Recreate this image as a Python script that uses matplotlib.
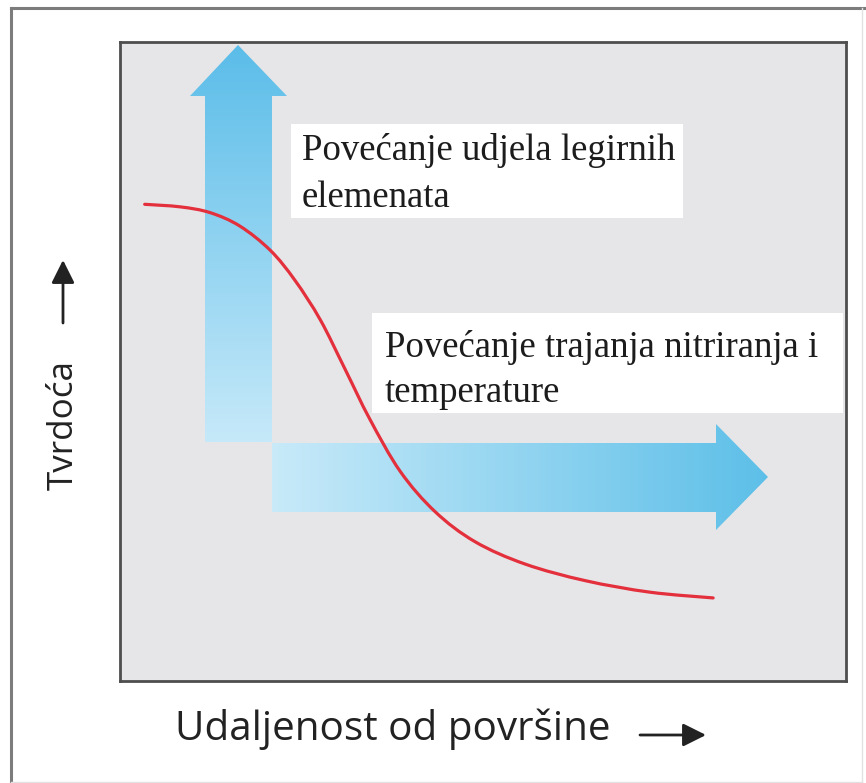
import numpy as np
import matplotlib
matplotlib.use("Agg")
import matplotlib.pyplot as plt
from matplotlib.patches import Polygon, Rectangle, PathPatch
from matplotlib.path import Path
from matplotlib.lines import Line2D

# ---------------- data ----------------
distance = [0.34, 0.83, 1.24, 1.65, 2.07, 2.41, 2.76, 3.10, 3.44, 3.86,
            4.34, 4.89, 5.58, 6.41, 7.30, 8.17]
hardness = [7.46, 7.42, 7.33, 7.12, 6.74, 6.27, 5.65, 4.88, 4.10, 3.28,
            2.65, 2.18, 1.83, 1.57, 1.39, 1.30]
x_label = "Udaljenost od površine"
y_label = "Tvrdoća"
note_alloy = ["Povećanje udjela legirnih", "elemenata"]
note_time = ["Povećanje trajanja nitriranja i", "temperature"]

# ---------------- layout ----------------
W, H = 866, 783
fig = plt.figure(figsize=(W / 100, H / 100), dpi=100)
fig.patch.set_facecolor("white")

AX_L, AX_R, AX_T, AX_B = 120, 846, 42, 681
ax = fig.add_axes([AX_L / W, 1 - AX_B / H, (AX_R - AX_L) / W, (AX_B - AX_T) / H])
ax.set_facecolor("#e6e6e8")
for s in ax.spines.values():
    s.set_color("#4e4e4e")
    s.set_linewidth(2.0)
ax.set_xticks([])
ax.set_yticks([])


def px(x, y):
    """pixel position of the reference -> axes data units (0..10)"""
    return ((x - AX_L) / (AX_R - AX_L) * 10, (AX_B - y) / (AX_B - AX_T) * 10)


def gradient_arrow(pts, c0, c1, vertical):
    verts = [px(*p) for p in pts]
    poly = Polygon(verts, closed=True, facecolor="none", edgecolor="none")
    ax.add_patch(poly)
    xs = [v[0] for v in verts]
    ys = [v[1] for v in verts]
    t = np.linspace(0, 1, 256)
    cols = (1 - t)[:, None] * np.array(c0) + t[:, None] * np.array(c1)
    img = cols[:, None, :] if vertical else cols[None, :, :]
    im = ax.imshow(img, extent=(min(xs), max(xs), min(ys), max(ys)),
                   origin="lower", aspect="auto", interpolation="bilinear", zorder=1)
    im.set_clip_path(poly)


def hexrgb(h):
    h = h.lstrip("#")
    return [int(h[i:i + 2], 16) / 255 for i in (0, 2, 4)]


# vertical arrow (light at bottom, stronger at top)
gradient_arrow([(205, 442), (272, 442), (272, 96), (287, 96), (238, 45), (190, 96), (205, 96)],
               hexrgb("#c6e9f9"), hexrgb("#5bbde9"), vertical=True)
# horizontal arrow (light at left, stronger at right)
gradient_arrow([(272, 443), (716, 443), (716, 424), (768, 477), (716, 530), (716, 512), (272, 512)],
               hexrgb("#c8eaf9"), hexrgb("#5dbfe8"), vertical=False)

# ---------------- red curve (smooth path through the read points) ----------------
P = np.column_stack([distance, hardness])
Pext = np.vstack([P[0], P, P[-1]])
verts = [tuple(P[0])]
codes = [Path.MOVETO]
for i in range(1, len(Pext) - 2):
    p0, p1, p2, p3 = Pext[i - 1], Pext[i], Pext[i + 1], Pext[i + 2]
    c1 = p1 + (p2 - p0) / 6
    c2 = p2 - (p3 - p1) / 6
    verts += [tuple(c1), tuple(c2), tuple(p2)]
    codes += [Path.CURVE4] * 3
ax.add_patch(PathPatch(Path(verts, codes), facecolor="none", edgecolor="#e3303c",
                       lw=2.3, zorder=4, capstyle="round"))

# ---------------- white notes ----------------
def note(box, lines, x_text, baselines):
    (x0, y0), (x1, y1) = px(box[0], box[3]), px(box[2], box[1])
    ax.add_patch(Rectangle((x0, y0), x1 - x0, y1 - y0, facecolor="white",
                           edgecolor="none", zorder=3))
    for line, b in zip(lines, baselines):
        tx, ty = px(x_text, b)
        ax.text(tx, ty, line, family="Liberation Serif", fontsize=26.5,
                color="#1c1c1c", ha="left", va="baseline", zorder=5)


note((291, 124, 683, 218), note_alloy, 302, [160, 207])
note((372, 313, 843, 413), note_time, 385, [357, 402])

ax.set_xlim(0, 10)
ax.set_ylim(0, 10)

# ---------------- axis labels with arrows ----------------
renderer = fig.canvas.get_renderer()


def fit(t, target, use_height):
    bb = t.get_window_extent(renderer)
    cur = bb.height if use_height else bb.width
    t.set_fontsize(t.get_fontsize() * target / cur)


xl = fig.text(393 / W, (H - 740) / H, x_label, family="Open Sans", fontsize=24,
              color="#222222", ha="center", va="baseline")
fit(xl, 436, False)
yl = fig.text(64 / W, (H - 425) / H, y_label, family="Open Sans", fontsize=24,
              color="#222222", ha="center", va="center", rotation=90)
fit(yl, 130, True)

arrow_kw = dict(arrowstyle="-|>,head_length=0.7,head_width=0.35", lw=2.0,
                color="#222222", shrinkA=0, shrinkB=0, mutation_scale=20)
ax.annotate("", xy=(706, H - 735), xytext=(640, H - 735), xycoords="figure pixels",
            textcoords="figure pixels", arrowprops=arrow_kw, annotation_clip=False)
ax.annotate("", xy=(63, H - 260), xytext=(63, H - 323), xycoords="figure pixels",
            textcoords="figure pixels", arrowprops=arrow_kw, annotation_clip=False)

# ---------------- outer frame ----------------
fig.add_artist(Line2D([11 / W, 11 / W], [0, 1 - 8 / H], transform=fig.transFigure,
                      color="#7c7c7c", lw=2.2))
fig.add_artist(Line2D([11 / W, 1], [1 - 8 / H, 1 - 8 / H], transform=fig.transFigure,
                      color="#7c7c7c", lw=2.2))
fig.add_artist(Line2D([862 / W, 862 / W], [0, 1 - 8 / H], transform=fig.transFigure,
                      color="#e2e2e2", lw=1.0))
fig.add_artist(Line2D([11 / W, 862 / W], [1.5 / H, 1.5 / H], transform=fig.transFigure,
                      color="#e2e2e2", lw=1.0))

fig.savefig("out.png", dpi=100)
